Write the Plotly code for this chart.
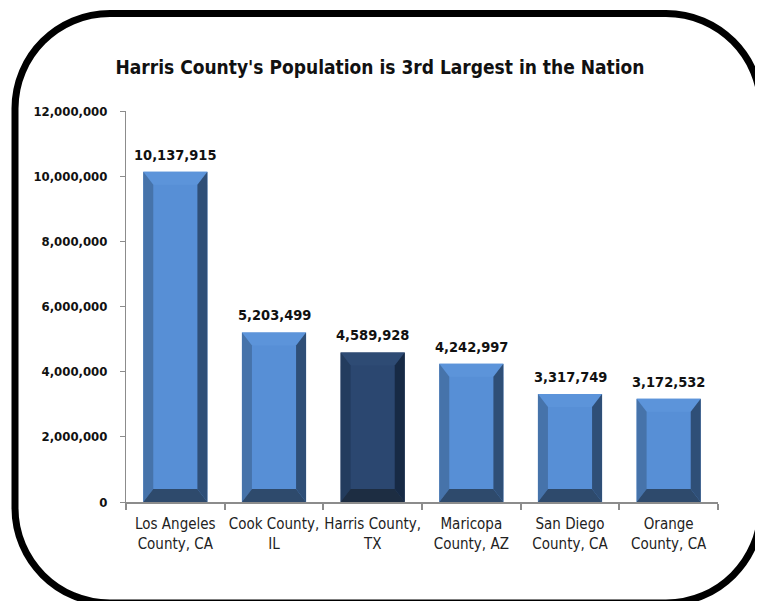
import plotly.graph_objects as go

categories = ["Los Angeles<br>County, CA", "Cook County,<br>IL", "Harris County,<br>TX",
              "Maricopa<br>County, AZ", "San Diego<br>County, CA", "Orange<br>County, CA"]
population = [10137915, 5203499, 4589928, 4242997, 3317749, 3172532]
highlight = [False, False, True, False, False, False]
y_ticks = [0, 2000000, 4000000, 6000000, 8000000, 10000000, 12000000]
title_text = "Harris County's Population is 3rd Largest in the Nation"

OFF = 8  # browser default body margin
W, H = 763 - OFF, 601 - OFF
ML, MR, MT, MB = 126 - OFF, 45, 111 - OFF, 99
PW, PH = W - ML - MR, H - MT - MB
YMAX = 12000000
n = len(categories)
xs = list(range(n))

px_x = n / PW
px_y = YMAX / PH
half = 0.325
bdx = 10 * px_x
bdy = 13 * px_y

normal = dict(face="#578fd6", top="#5c94da", left="#4673aa", right="#2f4f77", bottom="#2e4a6c")
dark = dict(face="#2b4770", top="#2e4b74", left="#233c5e", right="#172a45", bottom="#1d2d42")

COND = "DejaVu Sans Condensed, sans-serif"

fig = go.Figure()
fig.add_trace(go.Bar(
    x=xs, y=population, width=2 * half,
    marker=dict(color=[dark["face"] if h else normal["face"] for h in highlight], line=dict(width=0)),
    hoverinfo="skip", showlegend=False,
))

for c, v, h in zip(xs, population, highlight):
    col = dark if h else normal
    l, r = c - half, c + half
    polys = {
        "top": ([l, r, r - bdx, l + bdx, l], [v, v, v - bdy, v - bdy, v]),
        "left": ([l, l + bdx, l + bdx, l, l], [v, v - bdy, bdy, 0, v]),
        "right": ([r, r - bdx, r - bdx, r, r], [v, v - bdy, bdy, 0, v]),
        "bottom": ([l, l + bdx, r - bdx, r, l], [0, bdy, bdy, 0, 0]),
    }
    for k, (px, py) in polys.items():
        fig.add_trace(go.Scatter(x=px, y=py, mode="lines", fill="toself",
                                 fillcolor=col[k], line=dict(width=0, color=col[k]),
                                 hoverinfo="skip", showlegend=False))

for c, v in zip(xs, population):
    fig.add_annotation(x=c, y=v, yshift=17, text=f"{v:,}", showarrow=False,
                       font=dict(family=COND, size=14.5, color="#111111", weight="bold"))

def pxp(x):
    return (x - OFF - ML) / PW

def pyp(y):
    return (H - MB - (y - OFF)) / PH

x0, x1, y0, y1, rad = 15, 761, 13.5, 603, 95
k = 0.5523 * rad
pts = [
    ("M", [(x0 + rad, y0)]),
    ("L", [(x1 - rad, y0)]),
    ("C", [(x1 - rad + k, y0), (x1, y0 + rad - k), (x1, y0 + rad)]),
    ("L", [(x1, y1 - rad)]),
    ("C", [(x1, y1 - rad + k), (x1 - rad + k, y1), (x1 - rad, y1)]),
    ("L", [(x0 + rad, y1)]),
    ("C", [(x0 + rad - k, y1), (x0, y1 - rad + k), (x0, y1 - rad)]),
    ("L", [(x0, y0 + rad)]),
    ("C", [(x0, y0 + rad - k), (x0 + rad - k, y0), (x0 + rad, y0)]),
]
path = ""
for cmd, ps in pts:
    path += cmd + " " + " ".join(f"{pxp(a):.5f},{pyp(b):.5f}" for a, b in ps) + " "
path += "Z"
fig.add_shape(type="path", path=path, xref="paper", yref="paper",
              line=dict(color="#000000", width=7), fillcolor="rgba(0,0,0,0)", layer="above")

fig.update_layout(
    width=W, height=H,
    margin=dict(l=ML, r=MR, t=MT, b=MB, autoexpand=False),
    paper_bgcolor="white", plot_bgcolor="white",
    title=dict(text=title_text, x=(380 - OFF) / W, xref="container", xanchor="center",
               y=1 - (67 - OFF) / H, yanchor="middle",
               font=dict(family=COND, size=19, color="#111111", weight="bold")),
    xaxis=dict(range=[-0.5, n - 0.5], tickmode="array", tickvals=xs, ticktext=categories,
               ticks="", tickangle=0, showgrid=False, zeroline=False, showline=True,
               linecolor="#8c8c8c", linewidth=2, ticklabelstandoff=7,
               tickfont=dict(family=COND, size=15, color="#222222"),
               minor=dict(tickvals=[i - 0.5 for i in range(n + 1)], ticks="outside", ticklen=6,
                          tickcolor="#8c8c8c", tickwidth=2, showgrid=False),
               fixedrange=True),
    yaxis=dict(range=[0, YMAX], tickmode="array", tickvals=y_ticks,
               ticktext=[f"{t:,}" for t in y_ticks],
               ticks="outside", ticklen=5, tickcolor="#8c8c8c", tickwidth=1,
               showgrid=False, zeroline=False, showline=True, linecolor="#8c8c8c", linewidth=1,
               ticklabelstandoff=10,
               tickfont=dict(family=COND, size=13, color="#111111", weight="bold"),
               fixedrange=True),
)

fig.write_html("out.html", config={"displayModeBar": False})
